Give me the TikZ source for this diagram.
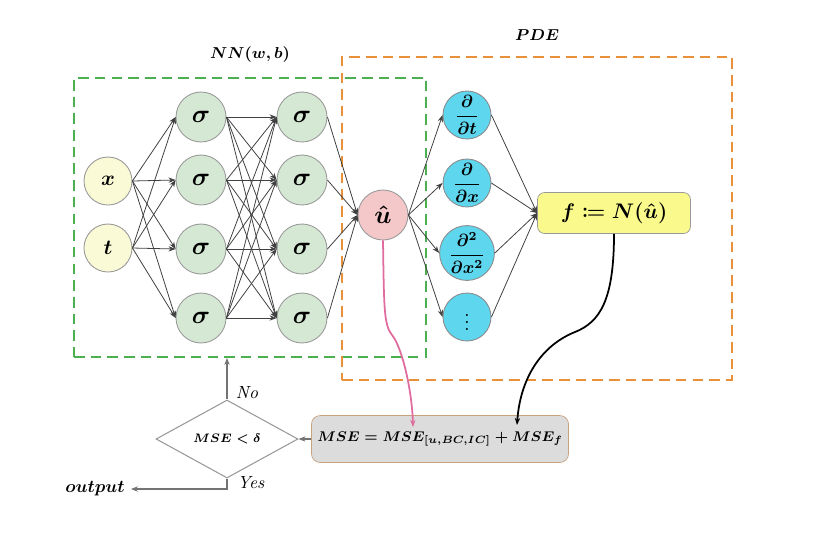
\documentclass[tikz,border=0pt]{standalone}
\usepackage{amsmath}
\usepackage{amssymb}
\usepackage{mathtools}
\usepackage{tikz}
\usetikzlibrary{shapes.geometric,arrows.meta}

\definecolor{inyellow}{HTML}{FAFAD7}
\definecolor{hidgreen}{HTML}{D5E8D4}
\definecolor{upink}{HTML}{F4C7C9}
\definecolor{dcyan}{HTML}{5ED6EE}
\definecolor{fyellow}{HTML}{FAFA8C}
\definecolor{msegray}{HTML}{DCDCDC}
\definecolor{msebrown}{HTML}{C9A27E}
\definecolor{nngreen}{HTML}{4CAF50}
\definecolor{pdeorange}{HTML}{E8913A}
\definecolor{curvepink}{HTML}{E06C9F}

\begin{document}
\begin{tikzpicture}[x=0.02cm, y=-0.02cm,
  neuron/.style={circle, draw=gray!80, line width=0.5pt, minimum size=1cm, inner sep=0pt, font=\Large\boldmath},
  pdeop/.style={circle, draw=gray!90, fill=dcyan, line width=0.5pt, minimum size=0.96cm, inner sep=0pt, font=\normalsize\boldmath},
  edge/.style={-{Stealth[length=4pt,width=3pt]}, black!75, line width=0.45pt},
  dashbox/.style={dash pattern=on 6pt off 3.5pt, line width=1.1pt, inner sep=0pt},
  label/.style={font=\boldmath}]
\useasboundingbox (0,0) rectangle (817,535);

% Dashed frames
\node[dashbox, draw=nngreen, minimum width=7.04cm, minimum height=5.58cm] (nn) at (250,217.5) {};
\node[dashbox, draw=pdeorange, minimum width=7.8cm, minimum height=6.46cm] (pde) at (537,218.5) {};
\node[label, font=\small\boldmath] (nnlabel) at (250,55) {$NN(w,b)$};
\node[label, font=\small\boldmath] (pdelabel) at (537,35) {$PDE$};

% Input layer
\node[neuron, fill=inyellow, minimum size=0.96cm, font=\large\boldmath] (x) at (108,181) {$x$};
\node[neuron, fill=inyellow, minimum size=0.96cm, font=\large\boldmath] (t) at (108,248) {$t$};

% Hidden layers
\foreach \i/\y in {1/117, 2/180, 3/249, 4/318} {
    \node[neuron, fill=hidgreen] (h1-\i) at (201,\y) {$\sigma$};
    \node[neuron, fill=hidgreen] (h2-\i) at (302,\y) {$\sigma$};
}

% Network output
\node[neuron, fill=upink] (u) at (383,215) {$\hat{u}$};

% PDE operators
\node[pdeop] (d1) at (467,115) {$\dfrac{\partial}{\partial t}$};
\node[pdeop] (d2) at (467,183) {$\dfrac{\partial}{\partial x}$};
\node[pdeop] (d3) at (467,253) {$\dfrac{\partial^2}{\partial x^2}$};
\node[pdeop, font=\large\boldmath] (d4) at (467,317) {$\vdots$};

% Residual and loss
\node[draw=gray!80, fill=fyellow, rounded corners=4pt, minimum width=3.06cm, minimum height=0.82cm, font=\large\boldmath] (f) at (614,213) {$f \coloneqq N(\hat{u})$};
\node[draw=msebrown, fill=msegray, rounded corners=5pt, minimum width=4.5cm, minimum height=0.94cm, font=\footnotesize\boldmath] (mse) at (440,439) {$MSE = MSE_{[u,BC,IC]} + MSE_f$};
\node[diamond, draw=gray!80, fill=white, line width=0.6pt, minimum width=2.84cm, minimum height=1.06cm, inner sep=0pt, font=\scriptsize\boldmath] (check) at (227,439) {$MSE < \delta$};
\node[label] (out) at (95,489) {$output$};
\node (no) at (247,393) {\textit{No}};
\node (yes) at (251,483) {\textit{Yes}};
\coordinate (mse-u) at (413,427);
\coordinate (mse-f) at (517,425);

% Connections
\foreach \a in {x,t} {
    \foreach \b in {1,...,4} {
        \draw[edge] (\a.east) -- (h1-\b.west);
    }
}
\foreach \a in {1,...,4} {
    \foreach \b in {1,...,4} {
        \draw[edge] (h1-\a.east) -- (h2-\b.west);
    }
    \draw[edge] (h2-\a.east) -- (u.west);
    \draw[edge] (u.east) -- (d\a.west);
    \draw[edge] (d\a.east) -- (f.west);
}

% Loss feedback
\draw[-{Stealth[length=4pt,width=3pt]}, curvepink, line width=1pt] (u.south) .. controls (384,310) and (384,325) .. (392,335) .. controls (402,347) and (412,390) .. (mse-u);
\draw[-{Stealth[length=4pt,width=3pt]}, black, line width=1pt] (f.south) .. controls (614,300) and (600,322) .. (575,332) .. controls (540,346) and (520,380) .. (mse-f);
\draw[edge, gray!90!black, line width=0.6pt] (mse.west) -- (check.east);
\draw[edge, gray!90!black, line width=0.6pt] (check.north) -- (check.north |- nn.south);
\draw[edge, gray!90!black, line width=0.6pt] (check.south) |- (out.east);
\end{tikzpicture}
\end{document}
